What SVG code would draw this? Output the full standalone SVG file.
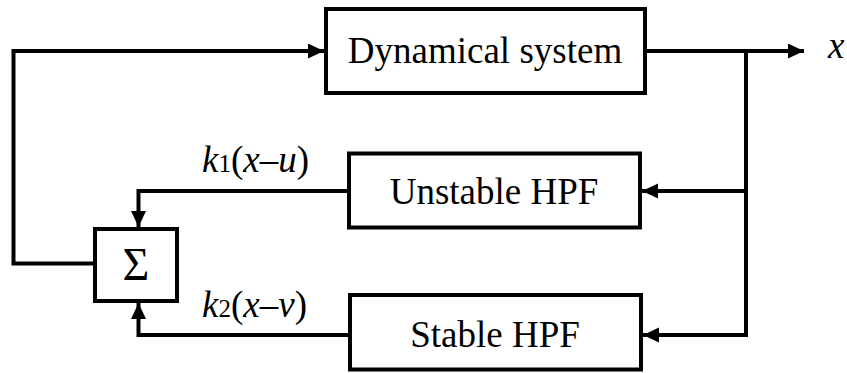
<svg xmlns="http://www.w3.org/2000/svg" width="847" height="373" viewBox="0 0 847 373">
  <style>
    .box { fill: #ffffff; stroke: #000000; stroke-width: 4; }
    .wire { fill: none; stroke: #000000; stroke-width: 4; stroke-linejoin: miter; }
    .lbl { font-family: "Liberation Serif", "Times New Roman", serif; font-size: 37px; fill: #000000; }
    .sigma { font-size: 46px; }
    .it { font-style: italic; }
  </style>
  <defs>
    <marker id="arrow" markerUnits="userSpaceOnUse" markerWidth="17" markerHeight="16" refX="16" refY="7.5" orient="auto">
      <path d="M0,0 L16,7.5 L0,15 Z" fill="#000000"/>
    </marker>
  </defs>
  <rect x="0" y="0" width="847" height="373" fill="#ffffff"/>

  <g id="connectors">
    <path class="wire" d="M95,263.5 H13.5 V51 H324" marker-end="url(#arrow)"/>
    <path class="wire" d="M645,51 H804" marker-end="url(#arrow)"/>
    <path class="wire" d="M746,51 V335 H643" marker-end="url(#arrow)"/>
    <path class="wire" d="M746,191 H642" marker-end="url(#arrow)"/>
    <path class="wire" d="M349,191 H138.5 V227" marker-end="url(#arrow)"/>
    <path class="wire" d="M350,335 H138.5 V303" marker-end="url(#arrow)"/>
  </g>

  <g id="dynamical-system">
    <rect class="box" x="326" y="9" width="319" height="84"/>
    <text class="lbl" x="485" y="63" text-anchor="middle">Dynamical system</text>
  </g>

  <g id="unstable-hpf">
    <rect class="box" x="349" y="153.5" width="291" height="74"/>
    <text class="lbl" x="494" y="204" text-anchor="middle">Unstable HPF</text>
  </g>

  <g id="stable-hpf">
    <rect class="box" x="350" y="295" width="291" height="74.5"/>
    <text class="lbl" x="495" y="347" text-anchor="middle">Stable HPF</text>
  </g>

  <g id="sum">
    <rect class="box" x="95" y="229" width="82" height="72"/>
    <text class="lbl sigma" x="136" y="280" text-anchor="middle">Σ</text>
  </g>

  <g id="labels">
    <text class="lbl it" x="828" y="58">x</text>
    <text class="lbl" x="202" y="172"><tspan class="it">k</tspan><tspan font-size="25px">1</tspan>(<tspan class="it">x</tspan>–<tspan class="it">u</tspan>)</text>
    <text class="lbl" x="202" y="317"><tspan class="it">k</tspan><tspan font-size="25px">2</tspan>(<tspan class="it">x</tspan>–<tspan class="it">v</tspan>)</text>
  </g>
</svg>
